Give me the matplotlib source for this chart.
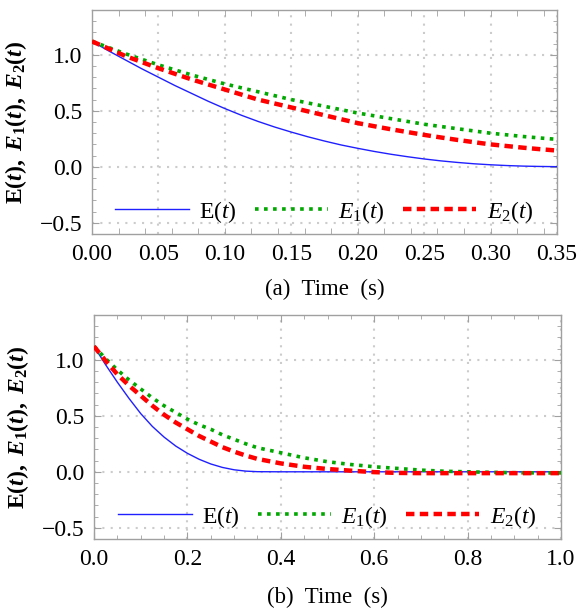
import matplotlib
matplotlib.use("Agg")
import matplotlib.pyplot as plt
from matplotlib.ticker import MultipleLocator

plt.rcParams["font.family"] = ["Liberation Serif", "DejaVu Serif"]
plt.rcParams["mathtext.fontset"] = "custom"
plt.rcParams["mathtext.rm"] = "Liberation Serif"
plt.rcParams["mathtext.it"] = "Liberation Serif:italic"
plt.rcParams["mathtext.bf"] = "Liberation Serif:bold"
plt.rcParams["mathtext.bfit"] = "Liberation Serif:bold:italic"

# ── panel (a): 0 … 0.35 s ──
t_a = [0.0, 0.0125, 0.025, 0.0375, 0.05, 0.0625, 0.075, 0.0875, 0.10, 0.1125,
       0.125, 0.1375, 0.15, 0.1625, 0.175, 0.1875, 0.20, 0.2125, 0.225, 0.2375,
       0.25, 0.2625, 0.275, 0.2875, 0.30, 0.3125, 0.325, 0.3375, 0.35]
E_a = [1.12, 1.035, 0.955, 0.875, 0.80, 0.725, 0.655, 0.585, 0.52, 0.46,
       0.405, 0.355, 0.31, 0.268, 0.23, 0.195, 0.165, 0.137, 0.112, 0.09,
       0.07, 0.053, 0.039, 0.027, 0.018, 0.011, 0.006, 0.003, 0.001]
E1_a = [1.12, 1.065, 1.01, 0.96, 0.91, 0.865, 0.82, 0.78, 0.74, 0.705,
        0.67, 0.635, 0.60, 0.57, 0.54, 0.51, 0.48, 0.455, 0.43, 0.405,
        0.38, 0.36, 0.34, 0.32, 0.30, 0.285, 0.27, 0.257, 0.245]
E2_a = [1.12, 1.055, 0.99, 0.935, 0.88, 0.83, 0.78, 0.735, 0.69, 0.645,
        0.60, 0.565, 0.53, 0.495, 0.46, 0.425, 0.39, 0.362, 0.335, 0.31,
        0.285, 0.262, 0.24, 0.22, 0.20, 0.185, 0.17, 0.157, 0.145]

# ── panel (b): 0 … 1 s ──
t_b = [0.0, 0.025, 0.05, 0.075, 0.10, 0.125, 0.15, 0.175, 0.20, 0.225,
       0.25, 0.275, 0.30, 0.325, 0.35, 0.40, 0.45, 0.50, 0.55, 0.60,
       0.65, 0.70, 0.75, 0.80, 0.85, 0.90, 0.95, 1.0]
E_b = [1.12, 0.955, 0.80, 0.655, 0.52, 0.405, 0.31, 0.23, 0.165, 0.112,
       0.07, 0.039, 0.018, 0.006, 0.001, 0.0, 0.0, 0.0, 0.0, 0.0,
       0.0, 0.0, 0.0, 0.0, 0.0, 0.0, 0.0, 0.0]
E1_b = [1.12, 1.01, 0.91, 0.82, 0.74, 0.66, 0.59, 0.53, 0.47, 0.42,
        0.38, 0.33, 0.29, 0.25, 0.215, 0.17, 0.125, 0.09, 0.065, 0.045,
        0.03, 0.015, 0.005, 0.0, -0.005, -0.008, -0.01, -0.01]
E2_b = [1.12, 0.99, 0.87, 0.77, 0.68, 0.59, 0.51, 0.44, 0.38, 0.32,
        0.27, 0.22, 0.18, 0.145, 0.115, 0.075, 0.045, 0.025, 0.01, -0.003,
        -0.01, -0.012, -0.012, -0.012, -0.012, -0.012, -0.012, -0.012]

lab_E = r"$\mathrm{E}(t)$"
lab_E1 = r"$E_{\mathrm{1}}(t)$"
lab_E2 = r"$E_{\mathrm{2}}(t)$"
ylab = (r"$\mathbf{E(}\mathbfit{t}\mathbf{),\ }\mathbfit{E}_{\mathbf{1}}\mathbf{(}\mathbfit{t}"
        r"\mathbf{),\ }\mathbfit{E}_{\mathbf{2}}\mathbf{(}\mathbfit{t}\mathbf{)}$")

BLUE = "#2020ff"
GREEN = "#00a800"
RED = "#ff0000"
FRAME = "#a0a0a0"


def draw(ax, t, e, e1, e2, xmax, xmaj, xmin, xlabel, label_y):
    ax.plot(t, e, color=BLUE, lw=1.0, label=lab_E, zorder=3)
    ax.plot(t, e1, color=GREEN, lw=2.6, ls=(0, (1, 1.5)), label=lab_E1, zorder=4)
    ax.plot(t, e2, color=RED, lw=3.2, ls=(0, (1.9, 1.2)), label=lab_E2, zorder=5)
    ax.set_xlim(0, xmax)
    ax.set_ylim(-0.6, 1.4)
    ax.xaxis.set_major_locator(MultipleLocator(xmaj))
    ax.xaxis.set_minor_locator(MultipleLocator(xmin))
    ax.yaxis.set_major_locator(MultipleLocator(0.5))
    ax.yaxis.set_minor_locator(MultipleLocator(0.1))
    ax.xaxis.remove_overlapping_locs = False
    ax.grid(True, which="major", color="#cccccc", lw=1.5, ls=(0, (1, 3)))
    for s in ax.spines.values():
        s.set_color(FRAME)
        s.set_linewidth(1.0)
    ax.tick_params(which="both", direction="in", top=True, right=True,
                   color=FRAME, labelsize=17, pad=7)
    ax.tick_params(axis="y", which="major", length=5)
    ax.tick_params(axis="y", which="minor", length=3)
    ax.set_xlabel(xlabel, fontsize=16.5)
    ax.xaxis.set_label_coords(0.5, label_y)
    ax.set_ylabel(ylab, fontsize=17)
    ax.yaxis.set_label_coords(-0.135, 0.5)
    ax.legend(loc="center", bbox_to_anchor=(0.5, 0.1), ncol=3, frameon=False,
              fontsize=17, handlelength=3.1, handletextpad=0.45,
              columnspacing=0.75, borderaxespad=0)


fig = plt.figure(figsize=(5.78, 6.10), dpi=100)
ax1 = fig.add_axes([92 / 578, 1 - 234 / 610, 465 / 578, 224 / 610])
ax2 = fig.add_axes([94 / 578, 1 - 539 / 610, 467 / 578, 224 / 610])

draw(ax1, t_a, E_a, E1_a, E2_a, 0.35, 0.05, 0.02, "(a)  Time  (s)", -0.20)
ax1.xaxis.set_major_formatter(plt.FormatStrFormatter("%.2f"))
ax1.tick_params(axis="x", which="major", length=0)
ax1.tick_params(axis="x", which="minor", length=4)

draw(ax2, t_b, E_b, E1_b, E2_b, 1.0, 0.2, 0.05, "(b)  Time  (s)", -0.215)
ax2.xaxis.set_major_formatter(plt.FormatStrFormatter("%.1f"))
ax2.tick_params(axis="x", which="major", length=5)
ax2.tick_params(axis="x", which="minor", length=3)

fig.savefig("out.png", dpi=100)
